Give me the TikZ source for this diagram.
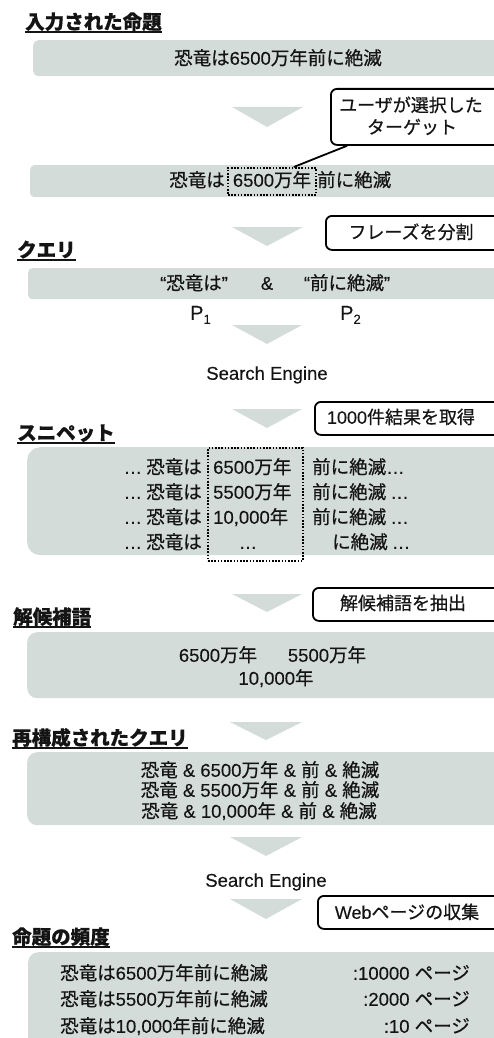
\documentclass[tikz,border=0pt]{standalone}
\usepackage{fontspec}
\setmainfont{Noto Sans CJK JP}[FakeBold=0.6]
\newfontfamily\latfont{Liberation Sans}[FakeBold=0.25]
\newcommand\ltn[1]{{\latfont #1}}
\definecolor{boxgray}{RGB}{212,220,218}
\definecolor{ink}{RGB}{20,20,20}
\begin{document}
\begin{tikzpicture}[x=1pt,y=-1pt,
  graybox/.style={fill=boxgray, draw=none, inner sep=0pt, anchor=north west},
  callout/.style={draw=black, line width=1.8pt, fill=white, rounded corners=6pt, inner sep=0pt, anchor=north west},
  arrowtri/.style={fill=boxgray, draw=none},
  txt/.style={inner sep=0pt, text=ink, font=\fontsize{18.5}{22}\selectfont, text height=16pt, text depth=2.5pt},
  ctxt/.style={txt, font=\fontsize{18}{22}\selectfont},
  title/.style={inner sep=0pt, anchor=base west, text=ink, font=\fontsize{19.5}{23}\selectfont\bfseries},
  ul/.style={line width=1.2pt, ink},
  dotbox/.style={draw=black, line width=1.8pt, dash pattern=on 1.6pt off 1.6pt, inner sep=0pt, anchor=north west},
  tail/.style={draw=black, line width=1.8pt}
]
\useasboundingbox (0,0) rectangle (494,1038);

% ---------- 1: input proposition ----------
\node[title] (t1) at (25,29) {入力された命題};
\draw[ul] ([yshift=-3pt]t1.base west) -- ([yshift=-3pt]t1.base east);
\node[graybox, rounded corners=5pt, minimum width=492pt, minimum height=36pt] (b1) at (33,40) {};
\node[txt] (b1t) at (278,58) {恐竜は\ltn{6500}万年前に絶滅};

\fill[arrowtri] (232,107) -- (303,107) -- (267,127) -- cycle;

% ---------- 2: target selected ----------
\node[graybox, rounded corners=4pt, minimum width=495pt, minimum height=32pt] (b2) at (30,165) {};
\node[dotbox, minimum width=88pt, minimum height=27pt] (d1) at (227,167) {};
\node[txt, anchor=east] (b2a) at (225,180) {恐竜は};
\node[txt] (b2b) at (272,180) {\ltn{6500}万年};
\node[txt, anchor=west] (b2c) at (317,180) {前に絶滅};

\node[callout, minimum width=200pt, minimum height=56pt] (c1) at (330,88) {};
\draw[tail] ([xshift=17pt]c1.south west) -- ([xshift=-23pt]d1.north east);
\node[ctxt] (c1a) at (411,105) {ユーザが選択した};
\node[ctxt] (c1b) at (412,127) {ターゲット};

\fill[arrowtri] (232,227) -- (303,227) -- (267,246) -- cycle;
\node[callout, minimum width=200pt, minimum height=34pt] (c2) at (325,215) {};
\node[ctxt] (c2t) at (411,232) {フレーズを分割};

% ---------- 3: query ----------
\node[title] (t2) at (17,257) {クエリ};
\draw[ul] ([yshift=-3pt]t2.base west) -- ([yshift=-3pt]t2.base east);
\node[graybox, rounded corners=4pt, minimum width=497pt, minimum height=31pt] (b3) at (28,268) {};
\node[txt] (q1) at (194,283) {\ltn{“}恐竜は\ltn{”}};
\node[txt] (q2) at (267,283) {\ltn{\&}};
\node[txt] (q3) at (347,283) {\ltn{“}前に絶滅\ltn{”}};
\node[txt, anchor=west] (p1) at (190,313) {\fontsize{20}{22}\selectfont\ltn{P\raisebox{-4pt}{\fontsize{13}{13}\selectfont 1}}};
\node[txt, anchor=west] (p2) at (340,313) {\fontsize{20}{22}\selectfont\ltn{P\raisebox{-4pt}{\fontsize{13}{13}\selectfont 2}}};

\fill[arrowtri] (232,325) -- (302,325) -- (267,344) -- cycle;
\node[txt] (se1) at (267,373) {\ltn{Search Engine}};
\fill[arrowtri] (232,409) -- (302,409) -- (267,428) -- cycle;
\node[callout, minimum width=210pt, minimum height=33pt] (c3) at (314,401) {};
\node[ctxt] (c3t) at (401,417) {\ltn{1000}件結果を取得};

% ---------- 4: snippets ----------
\node[title] (t3) at (17,440) {スニペット};
\draw[ul] ([yshift=-3pt]t3.base west) -- ([yshift=-3pt]t3.base east);
\node[graybox, rounded corners=13pt, minimum width=498pt, minimum height=108pt] (b4) at (27,447) {};
\node[dotbox, minimum width=95pt, minimum height=113pt] (d2) at (207,447) {};

\node[txt, anchor=east] (s1a) at (202,467) {\ltn{…} 恐竜は};
\node[txt, anchor=west] (s1b) at (213,467) {\ltn{6500}万年};
\node[txt, anchor=west] (s1c) at (312,467) {前に絶滅\ltn{…}};
\node[txt, anchor=east] (s2a) at (202,492) {\ltn{…} 恐竜は};
\node[txt, anchor=west] (s2b) at (213,492) {\ltn{5500}万年};
\node[txt, anchor=west] (s2c) at (312,492) {前に絶滅 \ltn{…}};
\node[txt, anchor=east] (s3a) at (202,517) {\ltn{…} 恐竜は};
\node[txt, anchor=west] (s3b) at (213,517) {\ltn{10,000}年};
\node[txt, anchor=west] (s3c) at (312,517) {前に絶滅 \ltn{…}};
\node[txt, anchor=east] (s4a) at (202,542) {\ltn{…} 恐竜は};
\node[txt] (s4b) at (248,542) {\ltn{…}};
\node[txt, anchor=west] (s4c) at (332,542) {に絶滅 \ltn{…}};

\fill[arrowtri] (232,594) -- (302,594) -- (267,612) -- cycle;
\node[callout, minimum width=210pt, minimum height=33pt] (c4) at (312,587) {};
\node[ctxt] (c4t) at (403,603) {解候補語を抽出};

% ---------- 5: candidates ----------
\node[title] (t4) at (13,624) {解候補語};
\draw[ul] ([yshift=-3pt]t4.base west) -- ([yshift=-3pt]t4.base east);
\node[graybox, rounded corners=10pt, minimum width=498pt, minimum height=66pt] (b5) at (27,632) {};
\node[txt] (k1) at (218,655) {\ltn{6500}万年};
\node[txt] (k2) at (327,655) {\ltn{5500}万年};
\node[txt] (k3) at (276,678) {\ltn{10,000}年};

\fill[arrowtri] (230,722) -- (302,722) -- (266,740) -- cycle;

% ---------- 6: reconstructed queries ----------
\node[title] (t5) at (12,745) {再構成されたクエリ};
\draw[ul] ([yshift=-3pt]t5.base west) -- ([yshift=-3pt]t5.base east);
\node[graybox, rounded corners=10pt, minimum width=498pt, minimum height=73pt] (b6) at (27,752) {};
\node[txt] (r1) at (260,770) {恐竜\ltn{ \& 6500}万年\ltn{ \& }前\ltn{ \& }絶滅};
\node[txt] (r2) at (260,790) {恐竜\ltn{ \& 5500}万年\ltn{ \& }前\ltn{ \& }絶滅};
\node[txt] (r3) at (259,811) {恐竜\ltn{ \& 10,000}年\ltn{ \& }前\ltn{ \& }絶滅};

\fill[arrowtri] (230,837) -- (302,837) -- (266,856) -- cycle;
\node[txt] (se2) at (266,880) {\ltn{Search Engine}};
\fill[arrowtri] (230,899) -- (302,899) -- (266,919) -- cycle;
\node[callout, minimum width=210pt, minimum height=33pt] (c5) at (317,895) {};
\node[ctxt] (c5t) at (407,912) {\ltn{Web}ページの収集};

% ---------- 7: frequency ----------
\node[title] (t6) at (12,944) {命題の頻度};
\draw[ul] ([yshift=-3pt]t6.base west) -- ([yshift=-3pt]t6.base east);
\node[graybox, rounded corners=10pt, minimum width=497pt, minimum height=100pt] (b7) at (28,952) {};
\node[txt, anchor=west] (f1a) at (60,973) {恐竜は\ltn{6500}万年前に絶滅};
\node[txt, anchor=east] (f1b) at (470,973) {\ltn{:10000 }ページ};
\node[txt, anchor=west] (f2a) at (60,999) {恐竜は\ltn{5500}万年前に絶滅};
\node[txt, anchor=east] (f2b) at (470,999) {\ltn{:2000 }ページ};
\node[txt, anchor=west] (f3a) at (60,1026) {恐竜は\ltn{10,000}年前に絶滅};
\node[txt, anchor=east] (f3b) at (470,1026) {\ltn{:10 }ページ};
\end{tikzpicture}
\end{document}
